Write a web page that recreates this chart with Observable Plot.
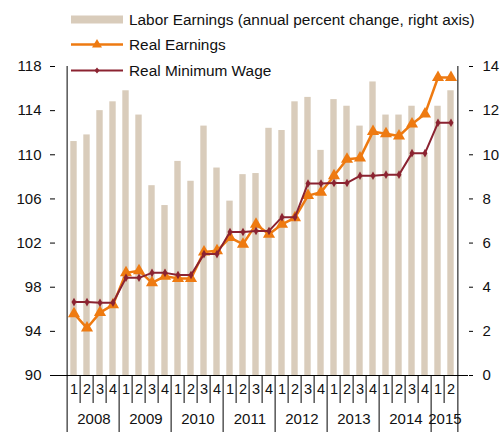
<!DOCTYPE html>
<html>
<head>
<meta charset="utf-8">
<script src="https://cdn.jsdelivr.net/npm/d3@7"></script>
<script src="https://cdn.jsdelivr.net/npm/@observablehq/plot@0.6"></script>
<style>
  body { margin: 0; background: #fff; }
  #wrap { position: relative; width: 500px; height: 432px; font-family: "Liberation Sans", Arial, sans-serif; }
  #legend { position: absolute; left: 0; top: 0; pointer-events: none; }
</style>
</head>
<body>
<div id="wrap"></div>
<script>
// ---- data ----
const quarters = ["1","2","3","4","1","2","3","4","1","2","3","4","1","2","3","4","1","2","3","4","1","2","3","4","1","2","3","4","1","2"];
const years = ["2008","2009","2010","2011","2012","2013","2014","2015"];
const laborEarnings = [10.6, 10.9, 12.0, 12.4, 12.9, 11.8, 8.6, 7.7, 9.7, 8.8, 11.3, 9.4, 7.9, 9.1, 9.15, 11.2, 11.1, 12.4, 12.6, 10.2, 12.5, 12.2, 11.3, 13.3, 11.8, 11.8, 12.2, 10.0, 12.2, 12.9];
const realEarnings = [95.6, 94.3, 95.7, 96.4, 99.3, 99.5, 98.4, 99.0, 98.8, 98.8, 101.2, 101.3, 102.5, 101.9, 103.7, 102.8, 103.7, 104.3, 106.3, 106.6, 108.1, 109.6, 109.7, 112.1, 111.9, 111.7, 112.8, 113.7, 117.0, 117.0];
const realMinWage = [96.65, 96.65, 96.6, 96.6, 98.85, 98.85, 99.3, 99.3, 99.1, 99.1, 101.0, 101.0, 103.0, 103.0, 103.1, 103.1, 104.35, 104.35, 107.4, 107.4, 107.45, 107.45, 108.1, 108.1, 108.2, 108.2, 110.15, 110.15, 112.9, 112.9];
const leftTicks = [90, 94, 98, 102, 106, 110, 114, 118];
const rightTicks = [0, 2, 4, 6, 8, 10, 12, 14];
const legendLabels = ["Labor Earnings (annual percent change, right axis)", "Real Earnings", "Real Minimum Wage"];

// ---- layout / style ----
const W = 500, H = 432, mL = 55, mR = 32, mT = 66, mB = 57;
const n = quarters.length;
const idx = d3.range(n);
const bw = (W - mL - mR) / n;
const barColor = "#D9CCBB", orange = "#EE7A11", maroon = "#8B2331";
// right axis (0..14) mapped onto left scale (90..118)
const toLeft = v => 90 + v * 2;

const yearStarts = idx.filter(i => quarters[i] === "1");
const yearCounts = yearStarts.map((s, k) => (k + 1 < yearStarts.length ? yearStarts[k + 1] : n) - s);
const quarterSeps = idx.filter(i => i > 0 && quarters[i] !== "1");
const yearSeps = yearStarts.filter(i => i > 0);

const chart = Plot.plot({
  width: W, height: H,
  marginLeft: mL, marginRight: mR, marginTop: mT, marginBottom: mB,
  style: { fontFamily: "Liberation Sans, Arial, sans-serif", fontSize: "15px", color: "#111", background: "#fff", overflow: "visible" },
  x: { type: "band", domain: idx, padding: 0, axis: null },
  y: { domain: [90, 118], axis: null },
  marks: [
    Plot.barY(idx, { x: d => d, y1: 90, y2: i => toLeft(laborEarnings[i]), fill: barColor, insetLeft: 3.3, insetRight: 3.3 }),
    // axes
    Plot.axisY({ anchor: "left", ticks: leftTicks, tickSize: 5, tickPadding: 9, fontSize: 15, stroke: "#000" }),
    Plot.axisY({ anchor: "right", ticks: rightTicks.map(toLeft), tickFormat: d => (d - 90) / 2, tickSize: 4, tickPadding: 10, fontSize: 15, stroke: "#000" }),
    Plot.ruleY([90], { stroke: "#000" }),
    Plot.ruleX([0], { x: d => d, dx: -bw / 2, insetBottom: -mB, stroke: "#000" }),
    Plot.ruleX([n - 1], { x: d => d, dx: bw / 2, insetBottom: -mB, stroke: "#000" }),
    Plot.ruleX(quarterSeps, { x: d => d, dx: -bw / 2, insetTop: H - mT - mB, insetBottom: -28, stroke: "#000" }),
    Plot.ruleX(yearSeps, { x: d => d, dx: -bw / 2, insetTop: H - mT - mB, insetBottom: -mB, stroke: "#000" }),
    // category labels
    Plot.text(idx, { x: d => d, text: i => quarters[i], frameAnchor: "bottom", dy: 18, fontSize: 14.5, fill: "#111" }),
    Plot.text(years, { x: (d, k) => yearStarts[k] + yearCounts[k] / 2 - 1, dx: bw / 2, text: d => d, frameAnchor: "bottom", dy: 48.5, fontSize: 15, fill: "#111" }),
    // lines
    Plot.line(idx, { x: d => d, y: i => realEarnings[i], stroke: orange, strokeWidth: 2.5 }),
    Plot.dot(idx, { x: d => d, y: i => realEarnings[i], symbol: "triangle", r: 4.5, fill: orange }),
    Plot.line(idx, { x: d => d, y: i => realMinWage[i], stroke: maroon, strokeWidth: 2 }),
    Plot.dot(idx, { x: d => d, y: i => realMinWage[i], symbol: "diamond", r: 2.6, fill: maroon })
  ]
});
document.getElementById("wrap").appendChild(chart);

// ---- legend (overlaid at top) ----
const NS = "http://www.w3.org/2000/svg";
const leg = document.createElementNS(NS, "svg");
leg.setAttribute("id", "legend");
leg.setAttribute("width", W);
leg.setAttribute("height", 85);
const rowsY = [19.5, 44.5, 70.5];
const el = (tag, attrs) => { const e = document.createElementNS(NS, tag); for (const k in attrs) e.setAttribute(k, attrs[k]); leg.appendChild(e); return e; };
legendLabels.forEach((lab, k) => {
  const y = rowsY[k];
  if (k === 0) {
    el("rect", { x: 71, y: y - 4, width: 52, height: 8, fill: barColor });
  } else if (k === 1) {
    el("line", { x1: 71, x2: 123, y1: y, y2: y, stroke: orange, "stroke-width": 2.5 });
    el("path", { d: `M97,${y - 5.5}L102,${y + 3}L92,${y + 3}Z`, fill: orange });
  } else {
    el("line", { x1: 71, x2: 123, y1: y, y2: y, stroke: maroon, "stroke-width": 2 });
    el("path", { d: `M97,${y - 3}L99.5,${y}L97,${y + 3}L94.5,${y}Z`, fill: maroon });
  }
  const t = el("text", { x: 129, y: y + 5.5, "font-size": 15.4, fill: "#111", "font-family": "Liberation Sans, Arial, sans-serif" });
  t.textContent = lab;
});
document.getElementById("wrap").appendChild(leg);
</script>
</body>
</html>
